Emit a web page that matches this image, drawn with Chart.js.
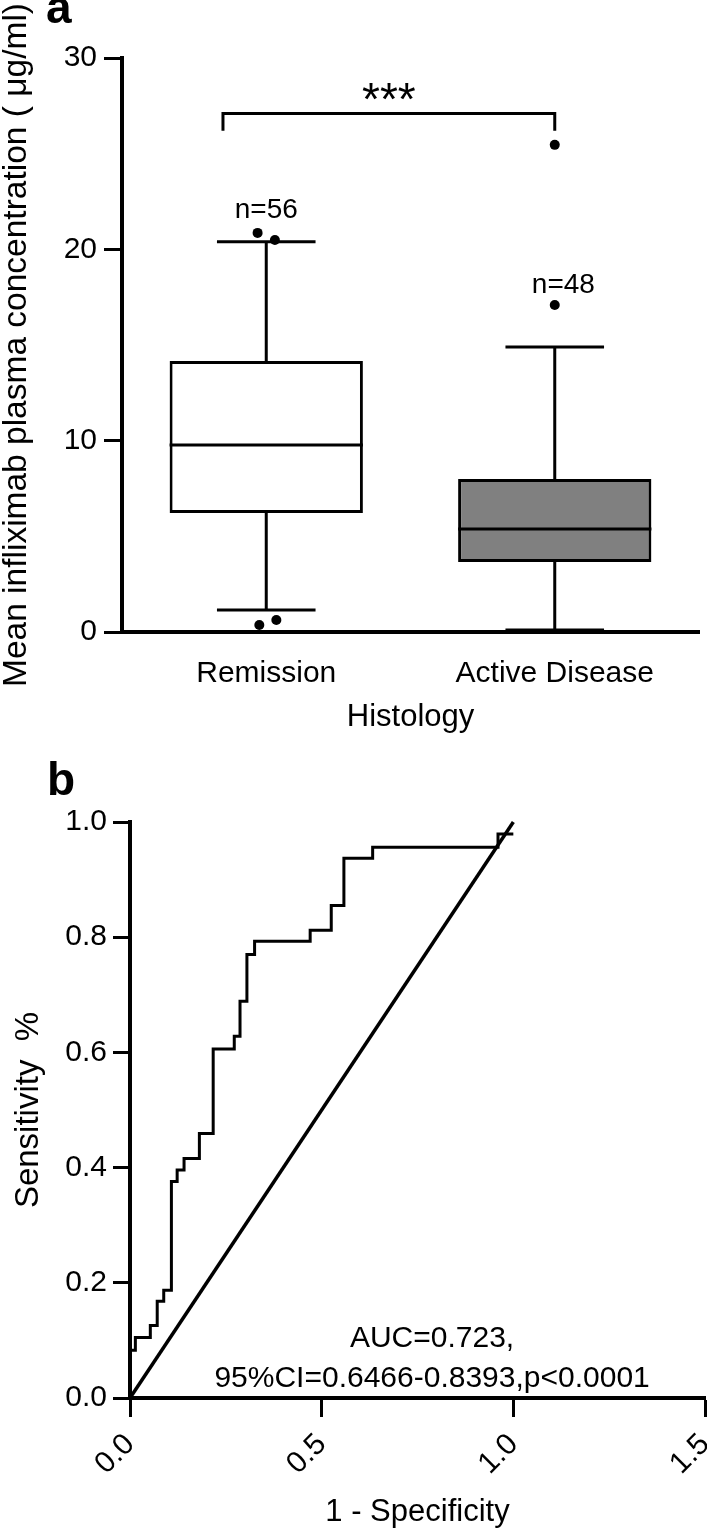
<!DOCTYPE html>
<html>
<head>
<meta charset="utf-8">
<script src="https://cdn.jsdelivr.net/npm/chart.js@4.4.0/dist/chart.umd.min.js"></script>
<style>
  body { margin: 0; background: #fff; }
  #wrap { position: relative; width: 707px; height: 1534px; }
  canvas { position: absolute; left: 0; }
  #boxChart { top: 0; }
  #rocChart { top: 745px; }
</style>
</head>
<body>
<div id="wrap">
  <canvas id="boxChart" width="707" height="745"></canvas>
  <canvas id="rocChart" width="707" height="789"></canvas>
</div>
<script>
// ---- panel a: infliximab concentration by histology ----
const groups = ["Remission", "Active Disease"];
const q1 = [6.22, 3.66];
const median = [9.78, 5.38];
const q3 = [14.17, 8.0];
const whiskerLow = [1.15, 0.1];
const whiskerHigh = [20.39, 14.9];
const groupN = ["n=56", "n=48"];
// outliers: group position (small side-by-side jitter) and value
const outlierX = [-0.03, 0.03, -0.024, 0.035, 1, 1];
const outlierY = [20.86, 20.49, 0.37, 0.63, 25.46, 17.09];
const yTicksA = [0, 10, 20, 30];

// ---- panel b: ROC curve (1 - specificity, sensitivity) ----
const rocFpr = [0, 0.014, 0.053, 0.071, 0.088, 0.108, 0.123, 0.141, 0.181, 0.217,
                0.272, 0.287, 0.305, 0.325, 0.470, 0.525, 0.558, 0.633, 0.960, 1.0];
const rocTpr = [0, 0.083, 0.105, 0.126, 0.168, 0.187, 0.376, 0.396, 0.416, 0.459,
                0.606, 0.628, 0.689, 0.770, 0.793, 0.812, 0.855, 0.937, 0.956, 0.979];
const refLine = [0, 1];
const xTicksB = [0, 0.5, 1.0, 1.5];
const yTicksB = [0, 0.2, 0.4, 0.6, 0.8, 1.0];

const black = "#000";
const family = "'Liberation Sans', Arial, sans-serif";
Chart.defaults.font.family = family;
Chart.defaults.color = black;

// where the annotations sit (data units)
const nLabelPos = { x: [0, 1.03], y: [21.64, 17.72] };
const bracket = { from: -0.15, to: 1, level: 27.1, drop: 0.9, label: "***" };
const aucPos = { x: 0.788, y: [0.089, 0.019] };

// whiskers, medians, bracket and labels for the box plot
const boxExtras = {
  id: "boxExtras",
  afterDatasetsDraw(chart) {
    const { ctx, scales: { x, y } } = chart;
    const bars = chart.getDatasetMeta(0).data;
    ctx.save();
    ctx.strokeStyle = black;
    ctx.lineWidth = 3;
    groups.forEach((g, i) => {
      const cx = x.getPixelForValue(i);
      const half = bars[i].width / 2;
      const cap = half * 0.51;
      ctx.beginPath();
      ctx.moveTo(cx - half, y.getPixelForValue(median[i]));
      ctx.lineTo(cx + half, y.getPixelForValue(median[i]));
      ctx.moveTo(cx, y.getPixelForValue(q3[i]));
      ctx.lineTo(cx, y.getPixelForValue(whiskerHigh[i]));
      ctx.moveTo(cx - cap, y.getPixelForValue(whiskerHigh[i]));
      ctx.lineTo(cx + cap, y.getPixelForValue(whiskerHigh[i]));
      ctx.moveTo(cx, y.getPixelForValue(q1[i]));
      ctx.lineTo(cx, y.getPixelForValue(whiskerLow[i]));
      ctx.moveTo(cx - cap, y.getPixelForValue(whiskerLow[i]));
      ctx.lineTo(cx + cap, y.getPixelForValue(whiskerLow[i]));
      ctx.stroke();
    });
    // significance bracket
    const bx1 = x.getPixelForValue(bracket.from), bx2 = x.getPixelForValue(bracket.to);
    const by = y.getPixelForValue(bracket.level), byd = y.getPixelForValue(bracket.level - bracket.drop);
    ctx.beginPath();
    ctx.moveTo(bx1, byd); ctx.lineTo(bx1, by); ctx.lineTo(bx2, by); ctx.lineTo(bx2, byd);
    ctx.stroke();
    ctx.fillStyle = black;
    ctx.textAlign = "center";
    ctx.textBaseline = "alphabetic";
    ctx.font = "46px " + family;
    ctx.fillText(bracket.label, (bx1 + bx2) / 2, by + 2);
    ctx.font = "28px " + family;
    groupN.forEach((t, i) => {
      ctx.fillText(t, x.getPixelForValue(nLabelPos.x[i]), y.getPixelForValue(nLabelPos.y[i]));
    });
    ctx.textAlign = "left";
    ctx.font = "bold 46px " + family;
    ctx.fillText("a", 46, 23);
    ctx.restore();
  }
};

new Chart(document.getElementById("boxChart"), {
  type: "bar",
  data: {
    datasets: [
      {
        type: "bar",
        data: groups.map((g, i) => ({ x: i, y: [q1[i], q3[i]] })),
        backgroundColor: ["#ffffff", "#808080"],
        borderColor: black,
        borderWidth: 3,
        borderSkipped: false,
        barPercentage: 0.67,
        categoryPercentage: 1
      },
      {
        type: "scatter",
        data: outlierX.map((v, i) => ({ x: v, y: outlierY[i] })),
        pointRadius: 5,
        pointBackgroundColor: black,
        pointBorderWidth: 0
      }
    ]
  },
  options: {
    responsive: false,
    animation: false,
    events: [],
    layout: { padding: { left: 0, top: 58, right: 8, bottom: 0 } },
    plugins: { legend: { display: false }, tooltip: { enabled: false } },
    scales: {
      x: {
        type: "linear",
        min: -0.5,
        max: 1.5,
        offset: false,
        afterBuildTicks: s => { s.ticks = groups.map((g, i) => ({ value: i })); },
        afterFit: s => { s.height = 113; s.paddingLeft = 0; s.paddingRight = 0; },
        ticks: { callback: v => groups[v], font: { size: 30 }, padding: 16, maxRotation: 0, autoSkip: false },
        grid: { display: false, offset: false },
        border: { display: true, color: black, width: 4 },
        title: { display: true, text: "Histology", font: { size: 31 }, padding: { top: 0, bottom: 9 } }
      },
      y: {
        min: 0,
        max: 30,
        afterBuildTicks: s => { s.ticks = yTicksA.map(v => ({ value: v })); },
        afterFit: s => { s.width = 122; },
        ticks: { font: { size: 30 }, padding: 7 },
        grid: { drawOnChartArea: false, drawTicks: true, tickLength: 18, tickWidth: 3, tickColor: black, color: black },
        border: { color: black, width: 4 },
        title: { display: true, text: "Mean infliximab plasma concentration ( μg/ml)", font: { size: 33.5, lineHeight: 1 }, padding: 0 }
      }
    }
  },
  plugins: [boxExtras]
});

// panel letter and AUC note for the ROC chart
const rocExtras = {
  id: "rocExtras",
  afterDraw(chart) {
    const { ctx, scales: { x, y } } = chart;
    ctx.save();
    ctx.fillStyle = black;
    ctx.textAlign = "center";
    ctx.textBaseline = "alphabetic";
    ctx.font = "30px " + family;
    ctx.fillText("AUC=0.723,", x.getPixelForValue(aucPos.x), y.getPixelForValue(aucPos.y[0]));
    ctx.fillText("95%CI=0.6466-0.8393,p<0.0001", x.getPixelForValue(aucPos.x), y.getPixelForValue(aucPos.y[1]));
    ctx.textAlign = "left";
    ctx.font = "bold 46px " + family;
    ctx.fillText("b", 47, 50);
    ctx.restore();
  }
};

new Chart(document.getElementById("rocChart"), {
  type: "scatter",
  data: {
    datasets: [
      {
        data: rocFpr.map((v, i) => ({ x: v, y: rocTpr[i] })),
        showLine: true,
        stepped: "after",
        borderColor: black,
        borderWidth: 3,
        pointRadius: 0,
        clip: false
      },
      {
        data: refLine.map(v => ({ x: v, y: v })),
        showLine: true,
        borderColor: black,
        borderWidth: 3.5,
        pointRadius: 0,
        clip: false
      }
    ]
  },
  options: {
    responsive: false,
    animation: false,
    events: [],
    layout: { padding: { left: 0, top: 77, right: 2, bottom: 0 } },
    plugins: { legend: { display: false }, tooltip: { enabled: false } },
    scales: {
      x: {
        type: "linear",
        min: 0,
        max: 1.5,
        afterBuildTicks: s => { s.ticks = xTicksB.map(v => ({ value: v })); },
        afterFit: s => { s.height = 136; s.paddingLeft = 0; s.paddingRight = 0; },
        ticks: { callback: v => v.toFixed(1), font: { size: 30 }, padding: 10, minRotation: 45, maxRotation: 45, autoSkip: false },
        grid: { drawOnChartArea: false, tickLength: 19, tickWidth: 3, tickColor: black, color: black },
        border: { color: black, width: 4 },
        title: { display: true, text: "1 - Specificity", font: { size: 31 }, padding: { top: 0, bottom: 3 } }
      },
      y: {
        min: 0,
        max: 1,
        afterBuildTicks: s => { s.ticks = yTicksB.map(v => ({ value: v })); },
        afterFit: s => { s.width = 130; },
        ticks: { callback: v => v.toFixed(1), font: { size: 30 }, padding: 6 },
        grid: { drawOnChartArea: false, tickLength: 17, tickWidth: 3, tickColor: black, color: black },
        border: { color: black, width: 4 },
        title: { display: true, text: "Sensitivity  %", font: { size: 33, lineHeight: 1 }, padding: { top: 12, bottom: 0 } }
      }
    }
  },
  plugins: [rocExtras]
});
</script>
</body>
</html>
